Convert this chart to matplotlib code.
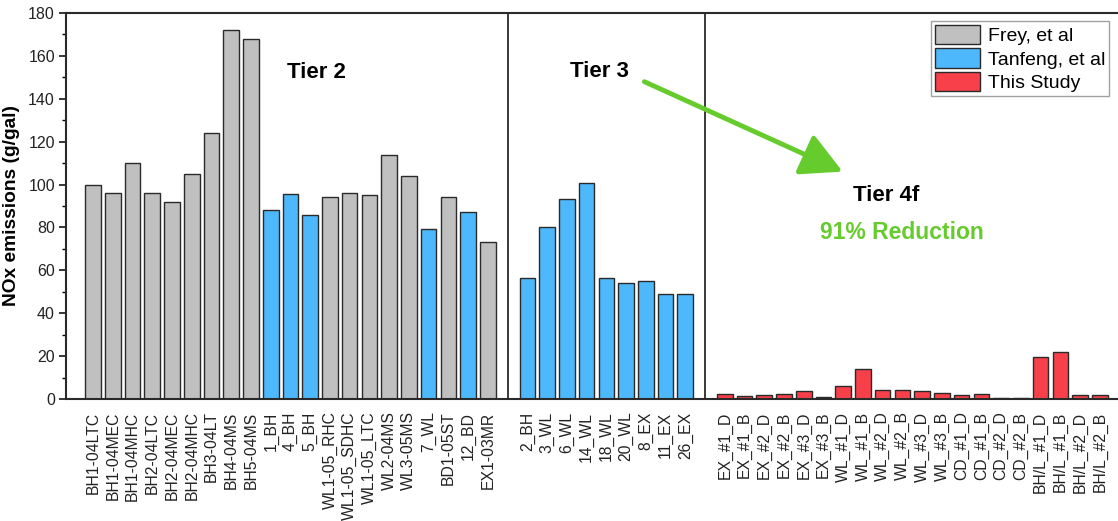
import matplotlib.pyplot as plt
from matplotlib.patches import Patch, FancyArrowPatch
from matplotlib.ticker import MultipleLocator

plt.rcParams['font.family'] = ['Liberation Sans', 'DejaVu Sans']

# Tier 2 engines (literature data)
tier2_labels = ['BH1-04LTC', 'BH1-04MEC', 'BH1-04MHC', 'BH2-04LTC', 'BH2-04MEC', 'BH2-04MHC',
                'BH3-04LT', 'BH4-04MS', 'BH5-04MS', '1_BH', '4_BH', '5_BH',
                'WL1-05_RHC', 'WL1-05_SDHC', 'WL1-05_LTC', 'WL2-04MS', 'WL3-05MS',
                '7_WL', 'BD1-05ST', '12_BD', 'EX1-03MR']
tier2_values = [100, 96, 110, 96, 92, 105, 124, 172, 168, 88, 95.5, 86,
                94, 96, 95, 114, 104, 79.5, 94, 87, 73]
tier2_source = ['frey'] * 9 + ['tanfeng'] * 3 + ['frey'] * 5 + ['tanfeng', 'frey', 'tanfeng', 'frey']

# Tier 3 engines
tier3_labels = ['2_BH', '3_WL', '6_WL', '14_WL', '18_WL', '20_WL', '8_EX', '11_EX', '26_EX']
tier3_values = [56.6, 80.4, 93.3, 100.7, 56.6, 54.1, 55.0, 49.1, 49.1]
tier3_source = ['tanfeng'] * 9

# Tier 4f engines (this study)
tier4_labels = ['EX_#1_D', 'EX_#1_B', 'EX_#2_D', 'EX_#2_B', 'EX_#3_D', 'EX_#3_B',
                'WL_#1_D', 'WL_#1_B', 'WL_#2_D', 'WL_#2_B', 'WL_#3_D', 'WL_#3_B',
                'CD_#1_D', 'CD_#1_B', 'CD_#2_D', 'CD_#2_B',
                'BH/L_#1_D', 'BH/L_#1_B', 'BH/L_#2_D', 'BH/L_#2_B']
tier4_values = [2.3, 1.4, 1.7, 2.2, 3.7, 0.9, 6.1, 14.0, 4.0, 4.4, 3.6, 2.8,
                1.9, 2.2, 0.5, 0.5, 19.6, 21.9, 1.9, 1.9]
tier4_source = ['this'] * 20

colors = {'frey': '#c0c0c0', 'tanfeng': '#4db8fb', 'this': '#f8404a'}
legend_names = {'frey': 'Frey, et al', 'tanfeng': 'Tanfeng, et al', 'this': 'This Study'}
green = '#66cc2e'

# lay the three groups out with one empty slot between them
groups = [(tier2_labels, tier2_values, tier2_source),
          (tier3_labels, tier3_values, tier3_source),
          (tier4_labels, tier4_values, tier4_source)]
xs, labels, values, cols, seps = [], [], [], [], []
start = 0
for lab, val, src in groups:
    xs += list(range(start, start + len(lab)))
    labels += lab
    values += val
    cols += [colors[s] for s in src]
    start += len(lab)
    seps.append(start)
    start += 1
seps = seps[:-1]

fig = plt.figure(figsize=(11.18, 5.21), dpi=100)
ax = fig.add_axes([66 / 1118, 1 - 399 / 521, 1052 / 1118, 386 / 521])

ax.bar(xs, values, width=0.79, color=cols, edgecolor='#2a2a2a', linewidth=1.0, zorder=2)

for s in seps:
    ax.axvline(s, color='#2a2a2a', linewidth=1.3, zorder=1)

ax.set_xlim(-1.37, 51.92)
ax.set_ylim(0, 180)
ax.set_xticks(xs)
ax.set_xticklabels(labels, rotation=90, fontsize=11.3, color='#222222')
ax.tick_params(axis='x', length=0, pad=9)
ax.yaxis.set_major_locator(MultipleLocator(20))
ax.yaxis.set_minor_locator(MultipleLocator(10))
ax.tick_params(axis='y', which='major', length=5, width=1.1, labelsize=11.5, pad=3,
               labelcolor='#222222')
ax.tick_params(axis='y', which='minor', length=3, width=1.0)
ax.set_ylabel('NOx emissions (g/gal)', fontsize=13.8, fontweight='bold', labelpad=6)

for side in ['left', 'bottom', 'top']:
    ax.spines[side].set_linewidth(1.5)
    ax.spines[side].set_color('#2a2a2a')
ax.spines['right'].set_visible(False)

# tier annotations
ax.text(11.3, 152.3, 'Tier 2', fontsize=16, fontweight='bold', ha='center', va='center')
ax.text(25.63, 152.5, 'Tier 3', fontsize=16, fontweight='bold', ha='center', va='center')
ax.text(40.2, 95.0, 'Tier 4f', fontsize=16, fontweight='bold', ha='center', va='center')
ax.text(40.96, 77.7, '91% Reduction', fontsize=16.5, fontweight='bold', color=green,
        ha='center', va='center')
arrow = FancyArrowPatch((27.8, 148.5), (38.1, 105.5),
                        arrowstyle='-|>,head_length=1.8,head_width=0.95',
                        mutation_scale=14, color=green, linewidth=3.5, zorder=3)
ax.add_patch(arrow)

handles = [Patch(facecolor=colors[k], edgecolor='#2a2a2a', label=legend_names[k])
           for k in ['frey', 'tanfeng', 'this']]
leg = ax.legend(handles=handles, loc='upper right', bbox_to_anchor=(0.9914, 0.980),
                fontsize=14, frameon=True, fancybox=False, framealpha=1,
                edgecolor='#a0a0a0', handlelength=2.3, handleheight=1.15,
                labelspacing=0.18, handletextpad=0.4, borderpad=0.2, borderaxespad=0)
leg.get_frame().set_linewidth(1.0)

fig.savefig('out.png', dpi=100)
